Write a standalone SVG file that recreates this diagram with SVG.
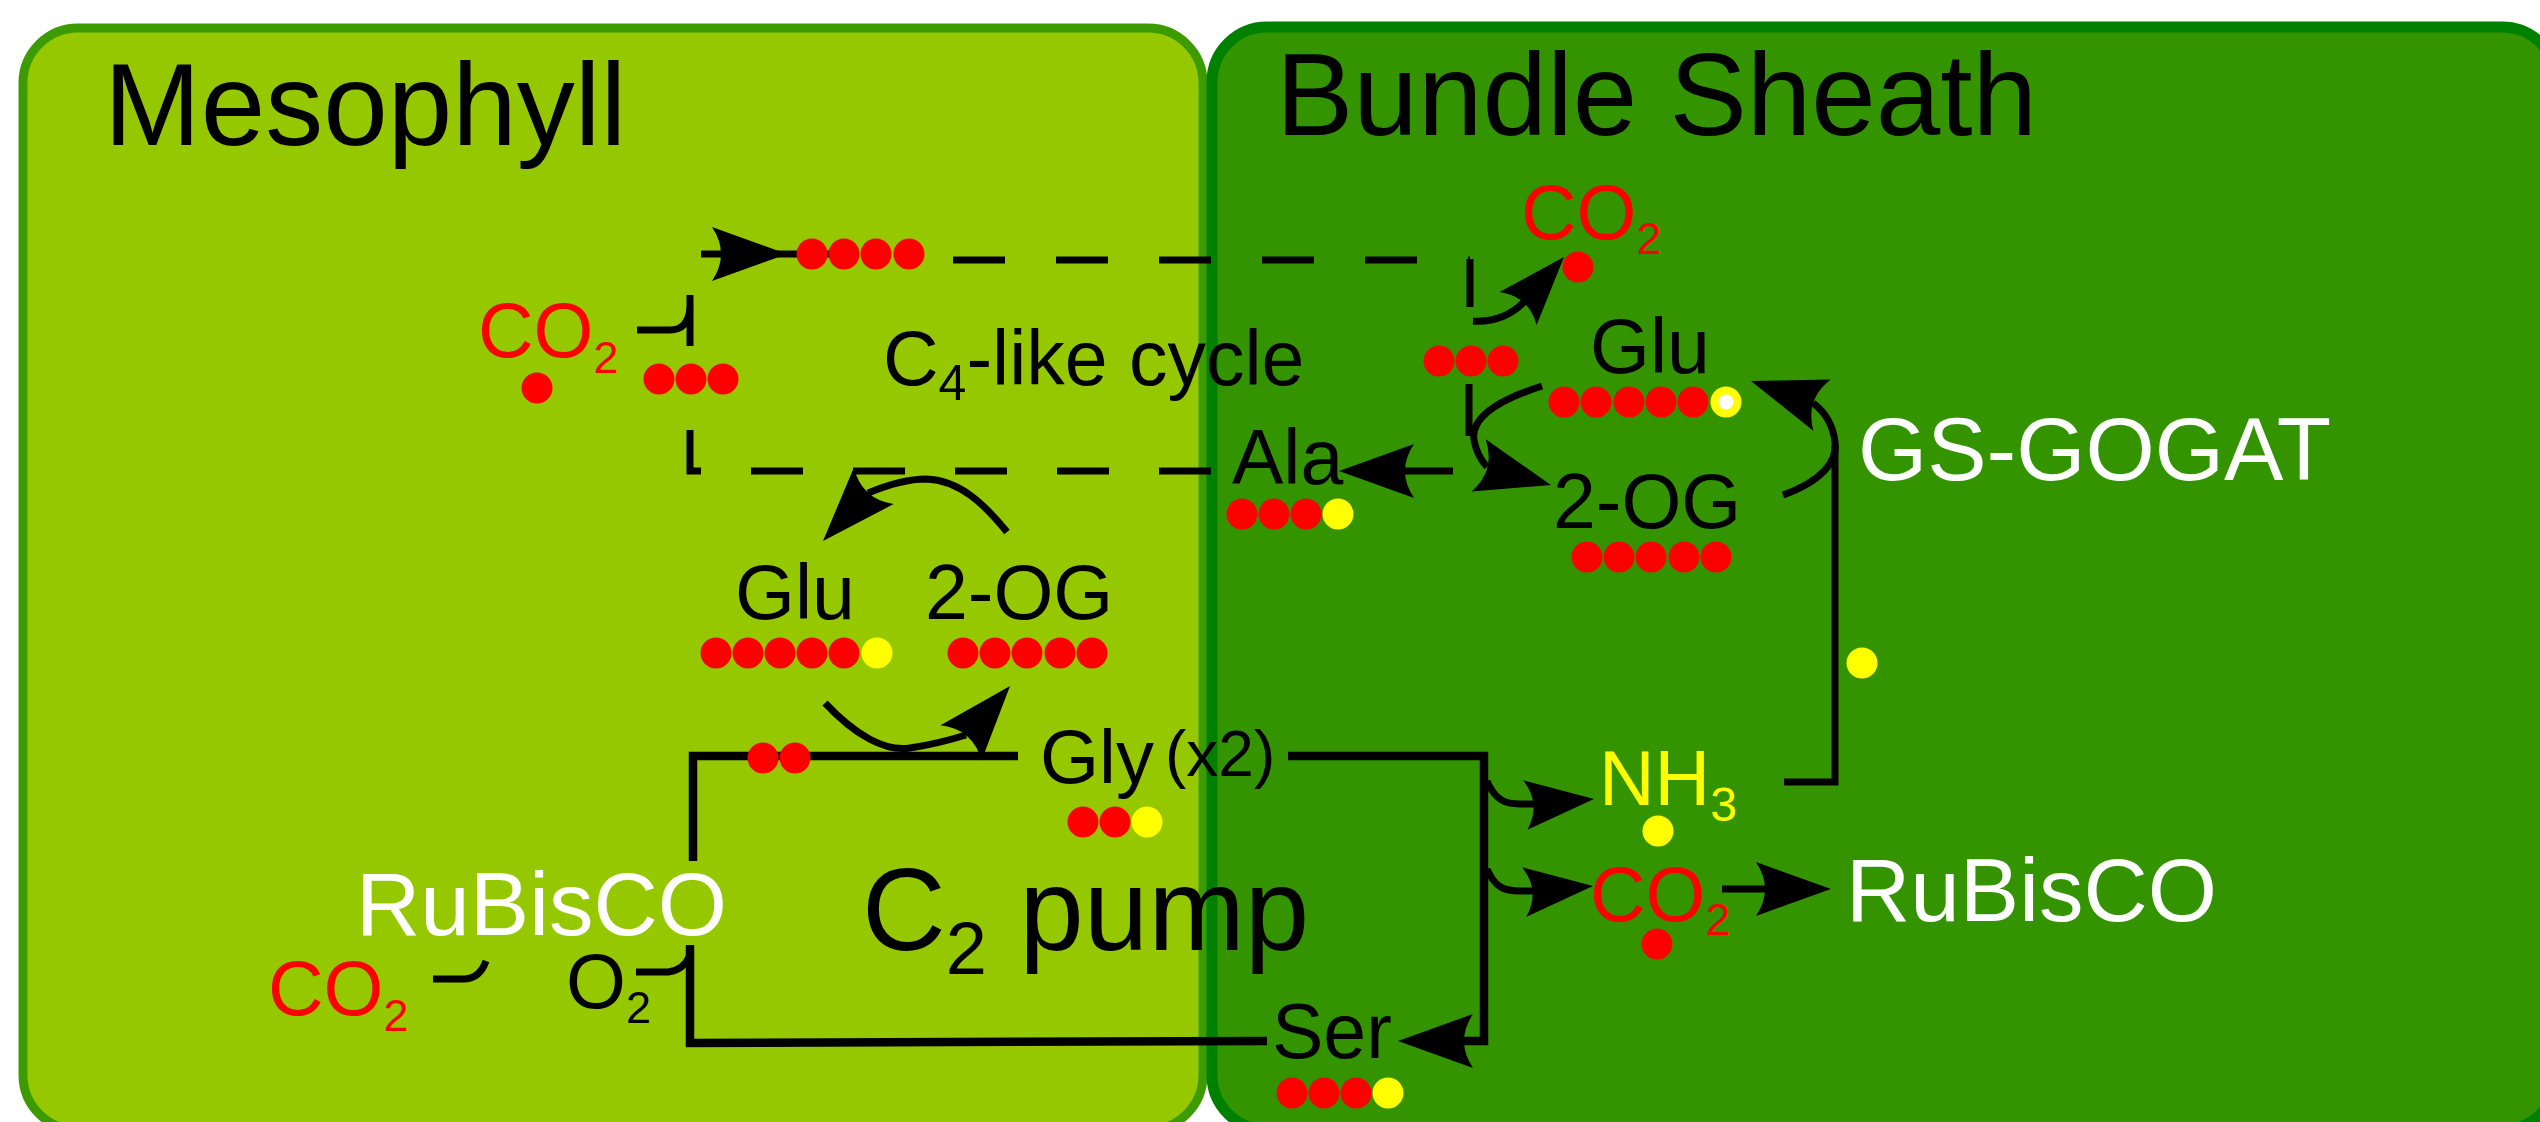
<svg xmlns="http://www.w3.org/2000/svg" width="2540" height="1122" viewBox="0 0 2540 1122">
<style>
.t{font-family:"Liberation Sans",Arial,sans-serif;font-size:77px;fill:#000}
.w{fill:#fff}
.r{fill:#f00}
.y{fill:#ff0}
.ttl{font-size:116px}
.big{font-size:89px}
.sub{font-size:45px}
.ln{fill:none;stroke:#000;stroke-width:7}
.th{fill:none;stroke:#000;stroke-width:8.5}
.dash{stroke-dasharray:52 51}
.rd{fill:#f00}
.yd{fill:#ff0}
</style>
<defs>
<path id="ah" d="M0,0 L-75,-27 Q-57,0 -75,27 Z" fill="#000"/>
</defs>
<g id="cell-mesophyll">
<rect x="23" y="28" width="1180" height="1102" rx="55" fill="#96c800" stroke="#3c9b00" stroke-width="9"/>
<text class="t ttl" x="104" y="145">Mesophyll</text>
</g>
<g id="cell-bundle-sheath">
<rect x="1212" y="27" width="1345" height="1103" rx="55" fill="#339400" stroke="#008000" stroke-width="11"/>
<text class="t ttl" x="1276" y="135">Bundle Sheath</text>
</g>
<g id="connectors">
<path class="ln" d="M701,254 H830"/>
<path class="ln dash" d="M953,260 H1470"/>
<path class="ln" d="M1470,259 V307"/>
<path class="ln" d="M1469,384 V436"/>
<path class="ln" d="M690,295 V346"/>
<path class="ln" d="M690,430 V471 H701"/>
<path class="ln" d="M751,471 H1212" style="stroke-dasharray:52 50"/>
<path class="ln" d="M637,330 H670 Q688,330 690,308"/>
<path class="ln" d="M1473,321 Q1503,323 1524,302"/>
<path class="ln" d="M1453,471 H1400"/>
<path class="ln" d="M1542,386 C1505,398 1470,415 1474,440 C1476,452 1481,460 1487,467"/>
<path class="ln" d="M1007,532 C985,505 960,480 926,479 C905,479 885,486 868,493"/>
<path class="ln" d="M825,703 C855,735 885,752 910,748 C930,745 950,740 966,735"/>
<path class="ln" d="M1784,782 H1835 V446"/>
<path class="ln" d="M1783,495 C1820,482 1838,462 1835,442 C1833,425 1825,412 1813,403"/>
<path class="th" d="M693,861 V756 H1018"/>
<path class="th" d="M690,945 V1043 L1267,1041"/>
<path class="th" d="M1288,756 H1484 V1041 H1460"/>
<path class="ln" d="M1487,781 C1495,800 1505,804 1520,804 H1534"/>
<path class="ln" d="M1487,869 C1495,888 1505,891 1520,891 H1535"/>
<path class="ln" d="M1722,889 H1770"/>
<path class="ln" d="M433,979 H465 Q480,978 486,961"/>
<path class="ln" d="M636,972 H668 Q684,970 690,955"/>
<use href="#ah" transform="translate(787,254)"/>
<use href="#ah" transform="translate(823,541) rotate(132.6)"/>
<use href="#ah" transform="translate(1010,686) rotate(-49.3)"/>
<use href="#ah" transform="translate(1339,471) rotate(180)"/>
<use href="#ah" transform="translate(1551,485) rotate(15.2)"/>
<use href="#ah" transform="translate(1564,257) rotate(-48.3) scale(0.92)"/>
<use href="#ah" transform="translate(1751,381) rotate(-161.2)"/>
<use href="#ah" transform="translate(1594,799) rotate(-5) scale(0.92)"/>
<use href="#ah" transform="translate(1593,886) rotate(-5) scale(0.92)"/>
<use href="#ah" transform="translate(1831,889)"/>
<use href="#ah" transform="translate(1398,1041) rotate(180)"/>
</g>
<g id="c4-acid">
<circle class="rd" cx="812" cy="254" r="15.5"/><circle class="rd" cx="844" cy="254" r="15.5"/><circle class="rd" cx="876" cy="254" r="15.5"/><circle class="rd" cx="909" cy="254" r="15.5"/>
</g>
<g id="co2-mesophyll-top">
<text class="t r" x="478" y="357">CO<tspan class="sub" dy="16">2</tspan></text>
<circle class="rd" cx="537" cy="388" r="15.5"/>
</g>
<g id="c3-mesophyll">
<circle class="rd" cx="659" cy="379" r="15.5"/><circle class="rd" cx="691" cy="379" r="15.5"/><circle class="rd" cx="723" cy="379" r="15.5"/>
</g>
<g id="c4-label">
<text class="t" x="883" y="385">C<tspan style="font-size:50px" dy="15">4</tspan><tspan dy="-15">-like cycle</tspan></text>
</g>
<g id="ala">
<text class="t" x="1232" y="484">Ala</text>
<circle class="rd" cx="1242" cy="514" r="15.5"/><circle class="rd" cx="1274" cy="514" r="15.5"/><circle class="rd" cx="1306" cy="514" r="15.5"/><circle class="yd" cx="1338" cy="514" r="15.5"/>
</g>
<g id="glu-mesophyll">
<text class="t" x="735" y="619">Glu</text>
<circle class="rd" cx="716" cy="653" r="15.5"/><circle class="rd" cx="748" cy="653" r="15.5"/><circle class="rd" cx="780" cy="653" r="15.5"/><circle class="rd" cx="812" cy="653" r="15.5"/><circle class="rd" cx="844" cy="653" r="15.5"/><circle class="yd" cx="877" cy="653" r="15.5"/>
</g>
<g id="og-mesophyll">
<text class="t" x="925" y="619">2-OG</text>
<circle class="rd" cx="963" cy="653" r="15.5"/><circle class="rd" cx="995" cy="653" r="15.5"/><circle class="rd" cx="1027" cy="653" r="15.5"/><circle class="rd" cx="1060" cy="653" r="15.5"/><circle class="rd" cx="1092" cy="653" r="15.5"/>
</g>
<g id="c2-intermediate">
<circle class="rd" cx="763" cy="758" r="15.5"/><circle class="rd" cx="795" cy="758" r="15.5"/>
</g>
<g id="gly">
<text class="t" x="1040" y="783" style="font-size:76px">Gly</text>
<text class="t" x="1165" y="776" style="font-size:64px">(x2)</text>
<circle class="rd" cx="1083" cy="822" r="15.5"/><circle class="rd" cx="1115" cy="822" r="15.5"/><circle class="yd" cx="1147" cy="822" r="15.5"/>
</g>
<g id="rubisco-mesophyll">
<text class="t w big" x="356" y="935">RuBisCO</text>
</g>
<g id="co2-mesophyll-bottom">
<text class="t r" x="268" y="1015">CO<tspan class="sub" dy="16">2</tspan></text>
</g>
<g id="o2">
<text class="t" x="566" y="1008">O<tspan class="sub" dy="15">2</tspan></text>
</g>
<g id="c2-pump-label">
<text class="t" x="862" y="950" style="font-size:116px">C<tspan style="font-size:74px" dy="24">2</tspan><tspan dy="-24"> pump</tspan></text>
</g>
<g id="co2-bs-top">
<text class="t r" x="1521" y="239">CO<tspan class="sub" dy="15">2</tspan></text>
<circle class="rd" cx="1578" cy="267" r="15.5"/>
</g>
<g id="c3-bs">
<circle class="rd" cx="1439" cy="361" r="15.5"/><circle class="rd" cx="1471" cy="361" r="15.5"/><circle class="rd" cx="1503" cy="361" r="15.5"/>
</g>
<g id="glu-bs">
<text class="t" x="1590" y="373">Glu</text>
<circle class="rd" cx="1564" cy="402" r="15.5"/><circle class="rd" cx="1596" cy="402" r="15.5"/><circle class="rd" cx="1629" cy="402" r="15.5"/><circle class="rd" cx="1661" cy="402" r="15.5"/><circle class="rd" cx="1693" cy="402" r="15.5"/>
<circle cx="1726" cy="402" r="11.5" fill="#fff" stroke="#ff0" stroke-width="8"/>
</g>
<g id="og-bs">
<text class="t" x="1553" y="528">2-OG</text>
<circle class="rd" cx="1587" cy="557" r="15.5"/><circle class="rd" cx="1619" cy="557" r="15.5"/><circle class="rd" cx="1651" cy="557" r="15.5"/><circle class="rd" cx="1684" cy="557" r="15.5"/><circle class="rd" cx="1716" cy="557" r="15.5"/>
</g>
<g id="gs-gogat">
<text class="t w big" x="1858" y="480">GS-GOGAT</text>
<circle class="yd" cx="1862" cy="663" r="15.5"/>
</g>
<g id="nh3">
<text class="t y" x="1599" y="805">NH<tspan style="font-size:48px" dy="16">3</tspan></text>
<circle class="yd" cx="1658" cy="831" r="15.5"/>
</g>
<g id="co2-bs">
<text class="t r" x="1590" y="921">CO<tspan class="sub" dy="14">2</tspan></text>
<circle class="rd" cx="1657" cy="944" r="15.5"/>
</g>
<g id="rubisco-bs">
<text class="t w big" x="1846" y="921">RuBisCO</text>
</g>
<g id="ser">
<text class="t" x="1272" y="1058">Ser</text>
<circle class="rd" cx="1292" cy="1093" r="15.5"/><circle class="rd" cx="1324" cy="1093" r="15.5"/><circle class="rd" cx="1356" cy="1093" r="15.5"/><circle class="yd" cx="1388" cy="1093" r="15.5"/>
</g>
</svg>
